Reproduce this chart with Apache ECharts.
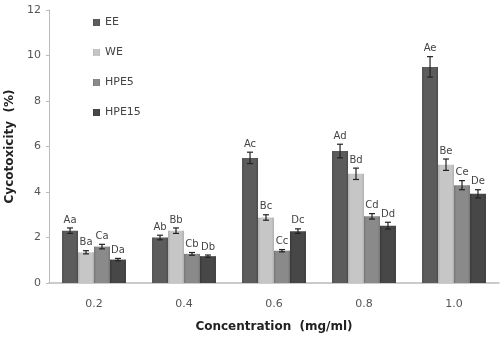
<!DOCTYPE html>
<html><head><meta charset="utf-8">
<script src="https://cdn.jsdelivr.net/npm/echarts@6/dist/echarts.min.js"></script>
<style>html,body{margin:0;padding:0;background:#fff}#c{width:502px;height:338px}</style>
</head><body><div id="c"></div>
<script>
var categories = ['0.2', '0.4', '0.6', '0.8', '1.0'];
var seriesNames = ['EE', 'WE', 'HPE5', 'HPE15'];
var ee = [2.3, 2.0, 5.5, 5.8, 9.5];
var we = [1.35, 2.3, 2.88, 4.8, 5.2];
var hpe5 = [1.6, 1.28, 1.42, 2.93, 4.3];
var hpe15 = [1.03, 1.18, 2.28, 2.52, 3.92];
var eeErr = [0.12, 0.1, 0.25, 0.3, 0.45];
var weErr = [0.07, 0.12, 0.12, 0.25, 0.25];
var hpe5Err = [0.1, 0.06, 0.05, 0.12, 0.2];
var hpe15Err = [0.05, 0.05, 0.1, 0.15, 0.18];
var eeLetters = ['Aa', 'Ab', 'Ac', 'Ad', 'Ae'];
var weLetters = ['Ba', 'Bb', 'Bc', 'Bd', 'Be'];
var hpe5Letters = ['Ca', 'Cb', 'Cc', 'Cd', 'Ce'];
var hpe15Letters = ['Da', 'Db', 'Dc', 'Dd', 'De'];

var values = [ee, we, hpe5, hpe15];
var errs = [eeErr, weErr, hpe5Err, hpe15Err];
var letters = [eeLetters, weLetters, hpe5Letters, hpe15Letters];
var colors = ['#5c5c5c', '#c6c6c6', '#8a8a8a', '#474747'];
var edge = ['#4a4a4a', '#b0b0b0', '#767676', '#383838'];
var CAT_GAP = 0.29;

function grad(c, e) {
  return new echarts.graphic.LinearGradient(0, 0, 1, 0, [
    {offset: 0, color: e}, {offset: 0.15, color: c}, {offset: 0.85, color: c}, {offset: 1, color: e}
  ]);
}

var series = seriesNames.map(function (n, i) {
  return {
    name: n, type: 'bar', data: values[i], barGap: '0%', barCategoryGap: (CAT_GAP * 100) + '%',
    itemStyle: {color: grad(colors[i], edge[i])}
  };
});

var errData = [];
for (var i = 0; i < 4; i++) {
  for (var j = 0; j < categories.length; j++) {
    errData.push([j, values[i][j], errs[i][j], i, letters[i][j]]);
  }
}

series.push({
  type: 'custom', name: 'err', silent: true, z: 10,
  data: errData,
  renderItem: function (params, api) {
    var cat = api.value(0), v = api.value(1), e = api.value(2), si = api.value(3);
    var lab = errData[params.dataIndex][4];
    var band = api.size([1, 0])[0];
    var bw = band * (1 - CAT_GAP) / 4;
    var off = -band * (1 - CAT_GAP) / 2 + bw * (si + 0.5);
    var hi = api.coord([cat, v + e]);
    var lo = api.coord([cat, v - e]);
    var x = hi[0] + off;
    var cw = 3;
    var st = {stroke: '#222', lineWidth: 1.2};
    return {
      type: 'group',
      children: [
        {type: 'line', shape: {x1: x, y1: hi[1], x2: x, y2: lo[1]}, style: st},
        {type: 'line', shape: {x1: x - cw, y1: hi[1], x2: x + cw, y2: hi[1]}, style: st},
        {type: 'line', shape: {x1: x - cw, y1: lo[1], x2: x + cw, y2: lo[1]}, style: st},
        {type: 'text', x: x, y: hi[1] - 3, style: {text: lab, textAlign: 'center', textVerticalAlign: 'bottom', fill: '#444', font: '10px "DejaVu Sans"'}}
      ]
    };
  }
});

var chart = echarts.init(document.getElementById('c'));
chart.setOption({
  animation: false,
  backgroundColor: '#fff',
  grid: {left: 49, right: 3, top: 10, bottom: 55, containLabel: false, outerBoundsMode: 'none'},
  legend: {
    data: seriesNames, orient: 'vertical', left: 88, top: 12, itemGap: 19,
    itemWidth: 7, itemHeight: 7, icon: 'rect',
    textStyle: {fontFamily: 'DejaVu Sans', fontSize: 11, color: '#444'}
  },
  xAxis: {
    type: 'category', data: categories,
    name: 'Concentration  (mg/ml)', nameLocation: 'middle', nameGap: 38,
    nameTextStyle: {fontFamily: 'DejaVu Sans', fontWeight: 'bold', fontSize: 12, color: '#222'},
    axisLine: {lineStyle: {color: '#bbb', width: 1.5}},
    axisTick: {show: false},
    axisLabel: {margin: 16, fontFamily: 'DejaVu Sans', fontSize: 11, color: '#555'}
  },
  yAxis: {
    type: 'value', min: 0, max: 12, interval: 2,
    name: 'Cycotoxicity  (%)', nameLocation: 'middle', nameGap: 29,
    nameTextStyle: {fontFamily: 'DejaVu Sans', fontWeight: 'bold', fontSize: 12, color: '#222'},
    axisLine: {show: true, lineStyle: {color: '#bbb'}},
    axisTick: {show: true, length: 3, lineStyle: {color: '#bbb'}},
    splitLine: {show: false},
    axisLabel: {margin: 8, fontFamily: 'DejaVu Sans', fontSize: 11, color: '#555'}
  },
  series: series
});
</script></body></html>
